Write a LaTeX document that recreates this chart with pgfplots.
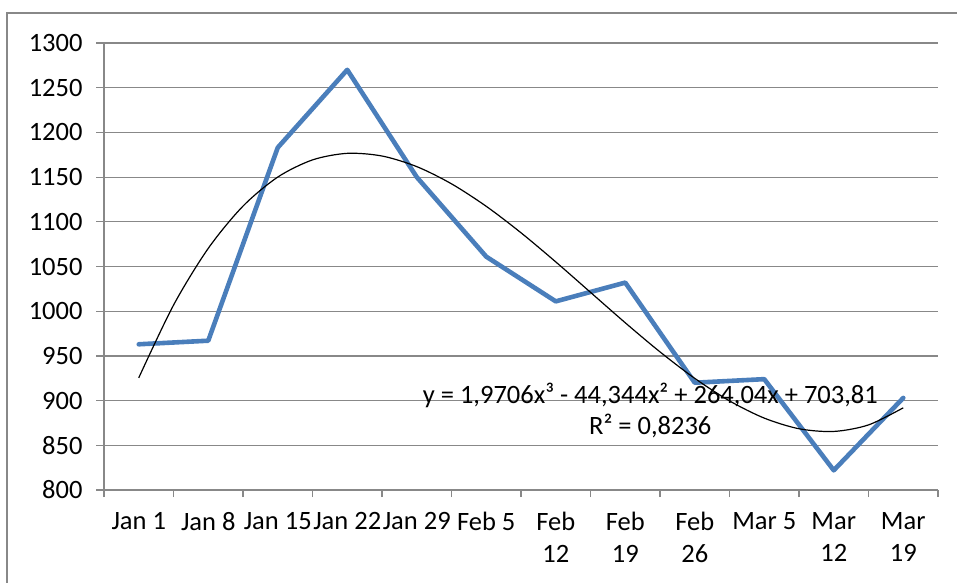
\documentclass[border=0pt]{standalone}
\usepackage{pgfplots}
\pgfplotsset{compat=1.18}
\usepackage{fontspec}
\setmainfont{Carlito}
\definecolor{gridgray}{HTML}{888888}
\definecolor{serblue}{HTML}{4A7EBB}
\begin{document}
\begin{tikzpicture}[font=\fontsize{26.5bp}{31.5bp}\selectfont]
\useasboundingbox (0,0) rectangle (957bp,583bp);
\clip (0,0) rectangle (957bp,583bp);
\draw[gridgray, line width=1.2bp] (7bp,-20bp) -- (7bp,570bp) -- (990bp,570bp);
\begin{axis}[
  at={(104bp,93bp)}, anchor=south west,
  scale only axis, width=834bp, height=447bp,
  xmin=0.5, xmax=12.5, ymin=800, ymax=1300,
  axis x line*=bottom, axis y line*=left,
  axis line style={gridgray, line width=1.2bp, -},
  ymajorgrids, grid style={gridgray, line width=1.2bp},
  tick align=outside,
  xtick={1,...,12},
  xticklabels={Jan 1, Jan 8, Jan 15, Jan 22, Jan 29, Feb 5, {Feb\\12}, {Feb\\19}, {Feb\\26}, Mar 5, {Mar\\12}, {Mar\\19}},
  minor xtick={0.5,1.5,...,12.5},
  major x tick style={draw=none},
  minor x tick style={gridgray, line width=1.2bp},
  y tick style={gridgray, line width=1.2bp},
  major tick length=8bp, minor tick length=7bp,
  xticklabel style={align=center, anchor=north, yshift=-11bp},
  ytick={800,850,...,1300},
  yticklabels={800,850,900,950,1000,1050,1100,1150,1200,1250,1300},
  yticklabel style={xshift=-10bp},
  clip=false,
]
\addplot[serblue, line width=4.6bp, line join=round, line cap=round] coordinates {
(1,963) (2,967) (3,1183) (4,1270) (5,1150) (6,1061) (7,1011) (8,1032) (9,920) (10,924) (11,822) (12,903)};
\addplot[black, line width=1.2bp, smooth] coordinates {
(1,925.48) (1.5,1006.75) (2,1070.28) (2.5,1117.55) (3,1150.04) (3.5,1169.23) (4,1176.58) (4.5,1173.59) (5,1161.74) (5.5,1142.47) (6,1117.32) (6.5,1087.72) (7,1055.15) (7.5,1021.11) (8,987.06) (8.5,954.49) (9,924.88) (9.5,899.68) (10,880.41) (10.5,868.52) (11,865.50) (11.5,872.81) (12,891.95)};
\node[align=center, anchor=center] at (axis cs:8.36,889) {y = 1,9706x³ - 44,344x² + 264,04x + 703,81\\R² = 0,8236};
\end{axis}
\end{tikzpicture}
\end{document}
